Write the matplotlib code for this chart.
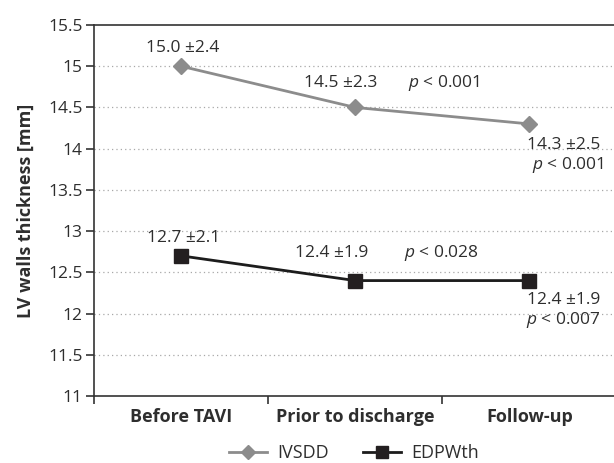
import matplotlib
matplotlib.use("Agg")
import matplotlib.pyplot as plt

categories = ["Before TAVI", "Prior to discharge", "Follow-up"]
ivsdd = [15.0, 14.5, 14.3]
edpwth = [12.7, 12.4, 12.4]
ivsdd_labels = ["15.0 ±2.4", "14.5 ±2.3", "14.3 ±2.5"]
edpwth_labels = ["12.7 ±2.1", "12.4 ±1.9", "12.4 ±1.9"]
ivsdd_p = ["", "< 0.001", "< 0.001"]
edpwth_p = ["", "< 0.028", "< 0.007"]
yticks = [11, 11.5, 12, 12.5, 13, 13.5, 14, 14.5, 15, 15.5]
ytick_labels = ["11", "11.5", "12", "12.5", "13", "13.5", "14", "14.5", "15", "15.5"]

plt.rcParams['font.family'] = ['Open Sans', 'DejaVu Sans']
plt.rcParams['mathtext.fontset'] = 'custom'
plt.rcParams['mathtext.it'] = 'Open Sans:italic'
plt.rcParams['mathtext.rm'] = 'Open Sans'
txt = '#2e2e2e'

fig = plt.figure(figsize=(6.14, 4.63), dpi=100)
ax = fig.add_axes([94/614, 1-396/463, 1.004-94/614, (396-25)/463])

x = list(range(len(categories)))
l1, = ax.plot(x, ivsdd, color='#8c8c8c', lw=2.0, marker='D', ms=8, mfc='#8c8c8c', mec='#8c8c8c', label='IVSDD', zorder=3)
l2, = ax.plot(x, edpwth, color='#1c1c1c', lw=2.0, marker='s', ms=9.5, mfc='#231f20', mec='#231f20', label='EDPWth', zorder=3)

ax.set_xlim(-0.5, 2.5)
ax.set_ylim(11, 15.5)
ax.set_yticks(yticks)
ax.set_yticklabels(ytick_labels, fontsize=12.5, color=txt)
ax.set_xticks([-0.5, 0.5, 1.5, 2.5])
ax.set_xticklabels([])
ax.set_xticks(x, minor=True)
ax.set_xticklabels(categories, minor=True, fontsize=13, fontweight='bold', color=txt)
ax.tick_params(axis='x', which='minor', length=0, pad=9)
ax.tick_params(axis='x', which='major', length=6, width=1.2, color='#333333')
ax.tick_params(axis='y', length=6, width=1.2, color='#333333', pad=2)

for yv in yticks[1:-1]:
    ax.axhline(yv, color='#a8a8a8', lw=0.9, ls=(0, (1, 2.5)), zorder=1)

for s in ['left', 'bottom', 'top']:
    ax.spines[s].set_color('#333333')
    ax.spines[s].set_linewidth(1.2)
ax.spines['right'].set_visible(False)

ax.set_ylabel('LV walls thickness [mm]', fontsize=13, fontweight='bold', color=txt, labelpad=10)

fs = 12.5
def t(xv, yv, s, ha='center'):
    ax.text(xv, yv, s, fontsize=fs, color=txt, ha=ha, va='center')

def pt(xv, yv, s, ha='center'):
    ax.text(xv, yv, r'$\it{p}$ ' + s, fontsize=fs, color=txt, ha=ha, va='center')

# IVSDD labels
t(0.011, 15.22, ivsdd_labels[0])
t(0.914, 14.80, ivsdd_labels[1])
pt(1.511, 14.80, ivsdd_p[1])
t(2.408, 14.04, ivsdd_labels[2], ha='right')
pt(2.425, 13.80, ivsdd_p[2], ha='right')

# EDPWth labels
t(0.014, 12.92, edpwth_labels[0])
t(0.865, 12.73, edpwth_labels[1])
pt(1.494, 12.73, edpwth_p[1])
t(2.408, 12.16, edpwth_labels[2], ha='right')
pt(2.408, 11.92, edpwth_p[2], ha='right')

leg = fig.legend(handles=[l1, l2], loc='center', bbox_to_anchor=(354/614, 1-453/463), ncol=2,
                 frameon=False, fontsize=13, handlelength=2.1, columnspacing=1.9, handletextpad=0.55,
                 markerscale=0.85)
for tx in leg.get_texts():
    tx.set_color(txt)

fig.savefig('out.png', dpi=100)
